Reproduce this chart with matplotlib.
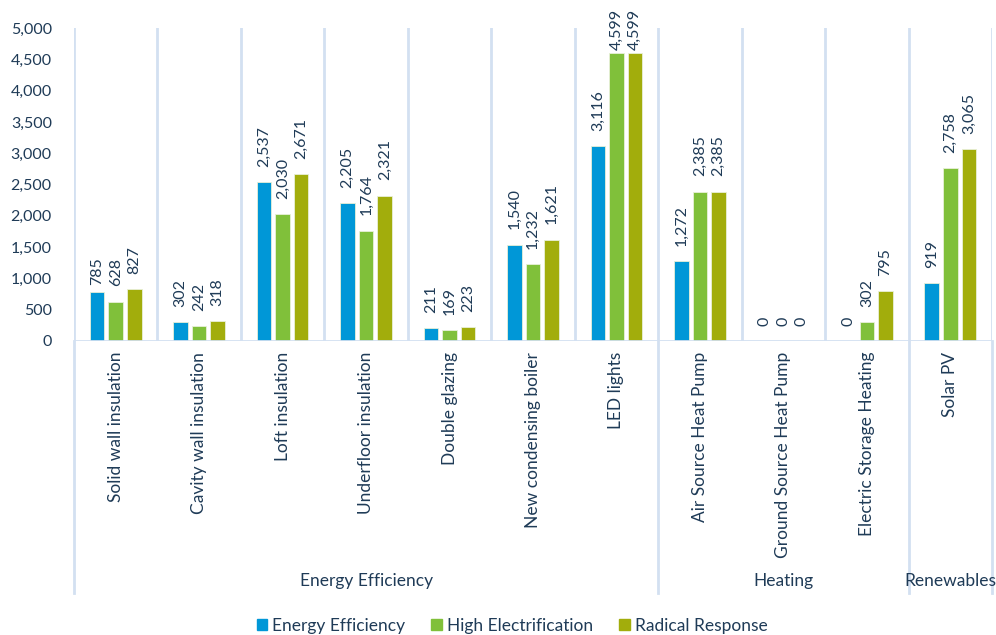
import matplotlib.pyplot as plt
import matplotlib.transforms as mtransforms
from matplotlib.lines import Line2D
from matplotlib.patches import Patch

plt.rcParams['font.family'] = ['Lato', 'DejaVu Sans']

categories = ['Solid wall insulation', 'Cavity wall insulation', 'Loft insulation',
              'Underfloor insulation', 'Double glazing', 'New condensing boiler',
              'LED lights', 'Air Source Heat Pump', 'Ground Source Heat Pump',
              'Electric Storage Heating', 'Solar PV']
groups = ['Energy Efficiency', 'Heating', 'Renewables']
group_sizes = [7, 3, 1]

energy_efficiency = [785, 302, 2537, 2205, 211, 1540, 3116, 1272, 0, 0, 919]
high_electrification = [628, 242, 2030, 1764, 169, 1232, 4599, 2385, 0, 302, 2758]
radical_response = [827, 318, 2671, 2321, 223, 1621, 4599, 2385, 0, 795, 3065]

series = [('Energy Efficiency', energy_efficiency, '#0097d7'),
          ('High Electrification', high_electrification, '#80c03a'),
          ('Radical Response', radical_response, '#a2ad0c')]

text_col = '#1f3b57'
sep_col = '#d3e0f1'
fs = 12.5
num_fs = 11.5

fig = plt.figure(figsize=(9.96, 6.35), dpi=100)
W, H = 996, 635
ax = fig.add_axes([74 / W, (H - 341) / H, 918 / W, (341 - 28) / H])

n = len(categories)
bw = 0.174
step = 0.222
for i, (name, vals, col) in enumerate(series):
    for j, v in enumerate(vals):
        x = j + (i - 1) * step
        ax.bar(x, v, width=bw, color=col, edgecolor='#e8f0d8', linewidth=0.6, zorder=3)
        off = 11
        if v > 4400:
            off = 2
        elif v == 785:
            off = 5
        ax.annotate(f'{v:,}', (x, v), xytext=(0, off), textcoords='offset points',
                    rotation=90, ha='center', va='bottom', fontsize=num_fs, color=text_col)

ax.set_xlim(-0.5, n - 0.5)
ax.set_ylim(0, 5000)
ax.set_yticks(range(0, 5001, 500))
ax.set_yticklabels([f'{t:,}' for t in range(0, 5001, 500)], fontsize=num_fs, color=text_col)
ax.tick_params(axis='y', length=0, pad=16)
ax.set_xticks([])
for s in ax.spines.values():
    s.set_visible(False)

# category separators above the axis
for k in range(n + 1):
    ax.axvline(k - 0.5, color=sep_col, lw=2, zorder=1)
ax.axhline(0, color=sep_col, lw=2, zorder=4)

# group separators run down through the label area
trans = mtransforms.blended_transform_factory(ax.transData, ax.transAxes)
depth = -(593 - 341) / (341 - 28)
edges = [0]
for g in group_sizes:
    edges.append(edges[-1] + g)
for e in edges:
    ax.add_line(Line2D([e - 0.5, e - 0.5], [0, depth], transform=trans,
                       color=sep_col, lw=2, clip_on=False))

lab_y = -(352 - 341) / (341 - 28)
for j, c in enumerate(categories):
    ax.text(j, lab_y, c, transform=trans, rotation=90, ha='center', va='top',
            fontsize=fs, color=text_col)

grp_y = -(581 - 341) / (341 - 28)
for g, a, b in zip(groups, edges[:-1], edges[1:]):
    ax.text((a + b - 1) / 2, grp_y, g, transform=trans, ha='center', va='center',
            fontsize=fs, color=text_col)

handles = [Patch(color=col, label=name) for name, _, col in series]
fig.legend(handles=handles, loc='center', bbox_to_anchor=(512 / W, 1 - 626 / H), ncol=3,
           frameon=False, fontsize=fs, handlelength=0.6, handleheight=0.6,
           handletextpad=0.3, columnspacing=1.5, labelcolor=text_col)

fig.savefig('out.png', dpi=100)
